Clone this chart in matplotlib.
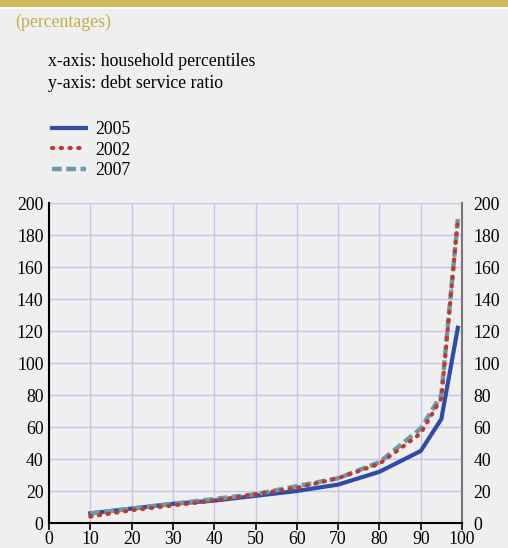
import matplotlib as mpl
import matplotlib.pyplot as plt
import matplotlib.transforms as mtransforms
from matplotlib.patches import Rectangle

# household percentiles
percentiles = [10, 20, 30, 40, 50, 60, 70, 80, 90, 95, 99]
dsr_2005 = [6, 9, 12, 14, 17, 20, 24, 32, 45, 65, 122]
dsr_2002 = [4, 8, 11, 14, 18, 22, 28, 37, 56, 78, 190]
dsr_2007 = [6, 9, 12, 15, 18, 23, 28, 38, 59, 80, 190]

x_ticks = list(range(0, 101, 10))
y_ticks = list(range(0, 201, 20))

BG = "#EFEFEF"
GOLD = "#CDBB5E"
GRID = "#C4C4EE"
BLUE = "#2E4DAA"
RED = "#C0392B"
TEAL = "#6A9BAA"

mpl.rcParams.update({
    "font.family": ["Liberation Serif", "DejaVu Serif"],
    "font.size": 12.8,
})

fig = plt.figure(figsize=(5.08, 5.48), dpi=100)
fig.patch.set_facecolor(BG)

# top band
fig.add_artist(Rectangle((0, 1 - 7 / 548), 1, 7 / 548, transform=fig.transFigure,
                         facecolor=GOLD, edgecolor="none"))
fig.add_artist(Rectangle((0, 1 - 9 / 548), 1, 2 / 548, transform=fig.transFigure,
                         facecolor="white", edgecolor="none"))

fig.text(15 / 508, 1 - 22 / 548, "(percentages)", color="#C2AE45", ha="left", va="center")
fig.text(48 / 508, 1 - 62 / 548, "x-axis: household percentiles", ha="left", va="center")
fig.text(48 / 508, 1 - 83 / 548, "y-axis: debt service ratio", ha="left", va="center")

ax = fig.add_axes([49 / 508, 25 / 548, 413 / 508, 320 / 548])
ax.set_facecolor(BG)

ax.plot(percentiles, dsr_2007, color=TEAL, lw=3.2, ls=(0, (2.2, 1.0)), label="2007", zorder=3)
ax.plot(percentiles, dsr_2002, color=RED, lw=3.0, ls=(0, (0.3, 1.8)),
        dash_capstyle="round", label="2002", zorder=4)
ax.plot(percentiles, dsr_2005, color=BLUE, lw=3.0, label="2005", zorder=2)

ax.set_xlim(0, 100)
ax.set_ylim(0, 200)
ax.set_xticks(x_ticks)
ax.set_yticks(y_ticks)
ax.grid(True, color=GRID, lw=1.0)
ax.set_axisbelow(True)

ax.tick_params(axis="x", direction="out", length=5, width=1.2, pad=1)
ax.tick_params(axis="y", length=0, labelleft=True, labelright=True, pad=4)
ax.spines["top"].set_visible(False)
ax.spines["left"].set_color("black")
ax.spines["left"].set_linewidth(1.5)
ax.spines["bottom"].set_color("black")
ax.spines["bottom"].set_linewidth(1.5)
ax.spines["right"].set_color("#777777")
ax.spines["right"].set_linewidth(1.5)

# push right-hand labels a little further from the spine
offset = mtransforms.ScaledTranslation(6 / 100, 0, fig.dpi_scale_trans)
for t in ax.yaxis.get_major_ticks():
    t.label2.set_transform(t.label2.get_transform() + offset)

# legend sits in the header, above the chart
handles, labels = ax.get_legend_handles_labels()
order = [2, 1, 0]
fig.legend([handles[i] for i in order], [labels[i] for i in order],
           loc="upper left", bbox_to_anchor=(36 / 508, 1 - 105 / 548),
           frameon=False, handlelength=1.9, handletextpad=0.55, labelspacing=0.2)

fig.savefig("out.png", dpi=100, facecolor=BG)
